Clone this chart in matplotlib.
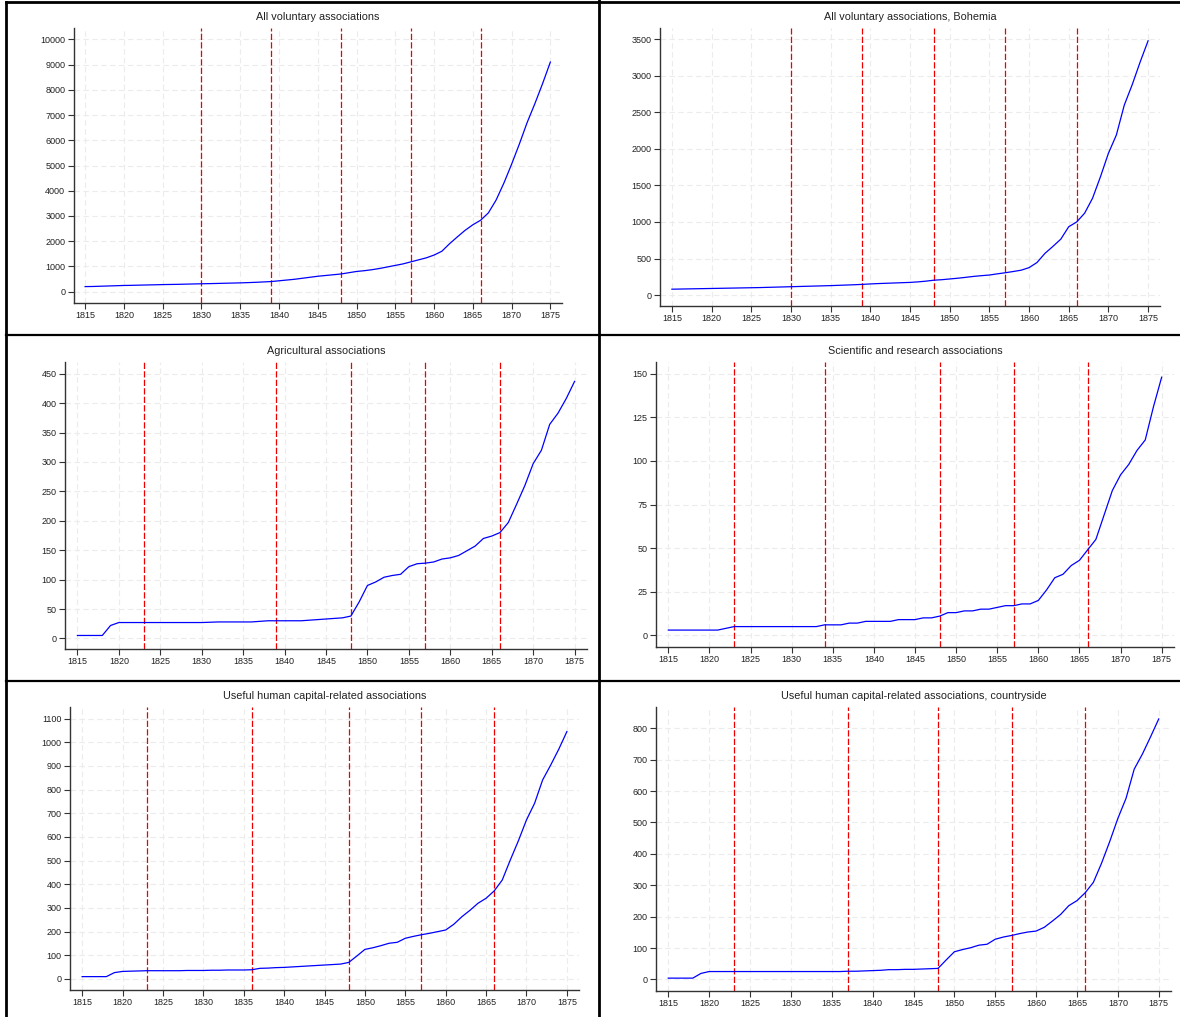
import matplotlib
matplotlib.use("Agg")
import matplotlib.pyplot as plt
from matplotlib.lines import Line2D
import numpy as np

years = list(range(1815, 1876))

all_vol = [200, 205, 215, 225, 235, 245, 250, 258, 265, 272, 280, 285, 290, 298, 305,
           312, 318, 325, 333, 340, 348, 358, 370, 385, 400, 430, 460, 490, 530, 570,
           610, 640, 670, 700, 750, 800, 830, 870, 920, 980, 1040, 1100, 1180, 1260, 1340,
           1450, 1600, 1900, 2170, 2430, 2650, 2830, 3120, 3630, 4300, 5050, 5850, 6700,
           7450, 8250, 9100]

bohemia = [80, 82, 84, 86, 88, 90, 92, 94, 96, 98, 100, 102, 105, 108, 111,
           114, 117, 120, 123, 126, 129, 133, 137, 141, 146, 152, 157, 161, 165, 169,
           173, 180, 190, 203, 210, 220, 230, 242, 255, 265, 274, 290, 305, 322, 340,
           375, 445, 570, 665, 765, 935, 1000, 1120, 1325, 1620, 1940, 2190, 2600,
           2880, 3190, 3480]

agri = [5, 5, 5, 5, 22, 27, 27, 27, 27, 27, 27, 27, 27, 27, 27,
        27, 27.5, 28, 28, 28, 28, 28, 29, 30, 30, 30, 30, 30, 31, 32,
        33, 34, 35, 38, 62, 90, 96, 104, 107, 109, 122, 127, 128, 130, 135,
        137, 141, 149, 157, 170, 174, 180, 197, 228, 260, 297, 320, 364,
        383, 408, 437]

sci = [3, 3, 3, 3, 3, 3, 3, 4, 5, 5, 5, 5, 5, 5, 5,
       5, 5, 5, 5, 6, 6, 6, 7, 7, 8, 8, 8, 8, 9, 9,
       9, 10, 10, 11, 13, 13, 14, 14, 15, 15, 16, 17, 17, 18, 18,
       20, 26, 33, 35, 40, 43, 49, 55, 69, 83, 92, 98, 106,
       112, 131, 148]

human = [10, 10, 10, 10, 27, 32, 33, 34, 35, 35, 35, 35, 35, 36, 36,
         36, 37, 37, 38, 38, 38, 39, 45, 46, 48, 49, 51, 53, 55, 57,
         59, 61, 63, 70, 97, 125, 132, 141, 151, 155, 172, 180, 187, 193, 200,
         207, 231, 263, 290, 320, 341, 372, 418, 503, 584, 672, 742, 841,
         904, 971, 1045]

country = [4, 4, 4, 4, 19, 25, 25, 25, 25, 25, 25, 25, 25, 25, 25,
           25, 25, 25, 25, 25, 25, 25, 26, 26, 27, 28, 29, 31, 31, 32,
           32, 33, 34, 35, 62, 88, 95, 101, 109, 112, 128, 135, 140, 146, 151,
           154, 166, 186, 207, 235, 251, 276, 309, 370, 439, 513, 577, 670,
           718, 773, 830]

titles = ["All voluntary associations",
          "All voluntary associations, Bohemia",
          "Agricultural associations",
          "Scientific and research associations",
          "Useful human capital-related associations",
          "Useful human capital-related associations, countryside"]

series = [all_vol, bohemia, agri, sci, human, country]

vlines = [[1830, 1839, 1848, 1857, 1866],
          [1830, 1839, 1848, 1857, 1866],
          [1823, 1839, 1848, 1857, 1866],
          [1823, 1834, 1848, 1857, 1866],
          [1823, 1836, 1848, 1857, 1866],
          [1823, 1837, 1848, 1857, 1866]]

yticks = [list(range(0, 10001, 1000)),
          list(range(0, 3501, 500)),
          list(range(0, 451, 50)),
          list(range(0, 151, 25)),
          list(range(0, 1101, 100)),
          list(range(0, 801, 100))]

ylims = [(-450, 10450), (-150, 3655), (-18, 470), (-6.7, 156.7), (-46.5, 1149), (-37, 868)]

xticks = list(range(1815, 1876, 5))

W, H = 1180, 1017
# axes boxes in pixels: left, right, top, bottom
boxes = [(73.5, 562, 28, 303),
         (660, 1160, 28, 306),
         (65, 587, 362, 649),
         (656, 1174, 362, 647),
         (70, 579, 707, 990),
         (656, 1171, 707, 991)]

plt.rcParams['font.family'] = ['Liberation Sans', 'DejaVu Sans']

fig = plt.figure(figsize=(W / 100, H / 100), dpi=100)
fig.patch.set_facecolor('white')

for i in range(6):
    l, r, t, b = boxes[i]
    ax = fig.add_axes([l / W, 1 - b / H, (r - l) / W, (b - t) / H])
    ax.set_xlim(1813.5, 1876.5)
    ax.set_ylim(*ylims[i])
    ax.set_xticks(xticks)
    ax.set_yticks(yticks[i])
    ax.grid(True, color='#ececec', linestyle=(0, (5, 3)), linewidth=0.8)
    ax.set_axisbelow(True)
    for v in vlines[i]:
        ax.axvline(v, color='#ee0000', linestyle=(0, (5, 1.8)), linewidth=0.9, zorder=2)
    ax.plot(years, series[i], color='blue', linewidth=0.9, zorder=3)
    ax.spines['top'].set_visible(False)
    ax.spines['right'].set_visible(False)
    for s in ('left', 'bottom'):
        ax.spines[s].set_color('#333333')
        ax.spines[s].set_linewidth(1.0)
    ax.tick_params(axis='both', direction='out', length=4, width=0.8,
                   colors='#333333', labelsize=6.5, labelcolor='#222222', pad=2)
    ax.set_title(titles[i], fontsize=7.8, color='#222222', pad=6)

# panel separators / frame
def hline(y, x0=0, x1=W, lw=2.0):
    fig.add_artist(Line2D([x0 / W, x1 / W], [1 - y / H, 1 - y / H], color='black', linewidth=lw,
                          transform=fig.transFigure))

def vline(x, y0=0, y1=H, lw=2.0):
    fig.add_artist(Line2D([x / W, x / W], [1 - y0 / H, 1 - y1 / H], color='black', linewidth=lw,
                          transform=fig.transFigure))

hline(2, 6, W, lw=2.0)
hline(334.5, 6, W, lw=1.6)
hline(680.5, 6, W, lw=1.6)
vline(6, 2, H, lw=2.0)
vline(599, 0, H, lw=2.0)

fig.savefig('out.png', dpi=100, facecolor='white')
